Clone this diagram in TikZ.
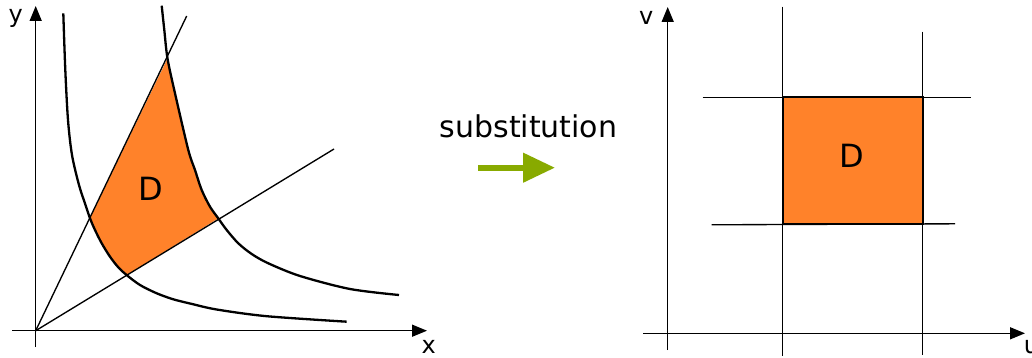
\documentclass[tikz,border=0pt]{standalone}
\usepackage{fontspec}
\setmainfont{DejaVu Sans}
\usetikzlibrary{arrows.meta}
\definecolor{regionorange}{RGB}{255,130,42}
\definecolor{arrowgreen}{RGB}{136,170,0}
\begin{document}
\begin{tikzpicture}[x=1pt,y=-1pt,
  axis/.style={line width=1.5pt,-{Triangle[length=15pt,width=12pt]}},
  thinline/.style={line width=1.35pt},
  curve/.style={line width=2.3pt},
  lbl/.style={inner sep=0pt,font=\fontsize{24}{28}\selectfont},
  dlabel/.style={inner sep=0pt,font=\fontsize{32}{38}\selectfont},
  boxline/.style={line width=2pt},
]
\useasboundingbox (0,0) rectangle (1032,358);

% ---------- left diagram ----------
\coordinate (O) at (35.7,330.7);
\coordinate (ybot) at (35.7,347);
\coordinate (ytip) at (35.7,6);
\coordinate (xleft) at (12,330.7);
\coordinate (xtip) at (427,330.7);
\coordinate (steepend) at (186.7,16);
\coordinate (shallowend) at (334,149);
\coordinate (P1) at (90,218.3);
\coordinate (P2) at (167.5,58.5);
\coordinate (P3) at (218.3,218.4);
\coordinate (P4) at (126.6,275);

% region D
\fill[regionorange] (P1) -- plot[smooth] coordinates {(P2) (175,93.3) (188.3,150) (195,170) (201.7,190) (210,206.7) (P3)}
  -- plot[smooth] coordinates {(P4) (118.3,267.3) (110,256.7) (101.7,243.3) (95,230) (P1)} -- cycle;

% axes
\draw[axis] (ybot) -- (ytip);
\draw[axis] (xleft) -- (xtip);

% rays
\draw[thinline] (O) -- (steepend);
\draw[thinline] (O) -- (shallowend);

% curves
\draw[curve] plot[smooth] coordinates {(63.3,13.3) (65.3,70) (68,120) (72,155) (79,185) (85,203.5)
  (P1) (95,230) (101.7,243.3) (110,256.7) (118.3,267.3) (P4) (140,285) (156.7,293.3)
  (173.3,299.3) (190,303.5) (216.7,309.5) (266.7,316.2) (346.7,321.7)};
\draw[curve] plot[smooth] coordinates {(161.7,5.7) (164.3,30) (P2) (175,93.3) (188.3,150) (195,170)
  (201.7,190) (210,206.7) (P3) (226.7,230) (238.3,243.3) (251.7,254) (268.3,263.3) (300,276)
  (350,289) (399,295)};

\node[lbl,anchor=base] (ylab) at (15.8,22.4) {y};
\node[lbl,anchor=base] (xlab) at (428.8,353.1) {x};
\node[dlabel] (D1) at (151.3,189.3) {D};

% ---------- middle ----------
\node[font=\fontsize{30}{36}\selectfont,inner sep=0pt,anchor=base] (subst) at (528.5,137.7) {substitution};
\coordinate (ga) at (478,167.7);
\coordinate (gb) at (555,167.7);
\draw[arrowgreen,line width=6pt,-{Triangle[length=32pt,width=28.5pt]}] (ga) -- (gb);

% ---------- right diagram ----------
\coordinate (vbot) at (667.7,350);
\coordinate (vtip) at (667.7,7);
\coordinate (uleft) at (643.3,333.3);
\coordinate (utip) at (1025,333.3);
\draw[axis] (vbot) -- (vtip);
\draw[axis] (uleft) -- (utip);

\coordinate (a1) at (782.7,6.7);
\coordinate (a2) at (782.7,356);
\coordinate (b1) at (922.7,31.7);
\coordinate (b2) at (922.7,355);
\coordinate (c1) at (702.7,97.3);
\coordinate (c2) at (971,97.3);
\coordinate (d1) at (711.7,224.8);
\coordinate (d2) at (955,223.8);
\draw[thinline] (a1) -- (a2);
\draw[thinline] (b1) -- (b2);
\draw[thinline] (c1) -- (c2);
\draw[thinline] (d1) -- (d2);
\coordinate (R1) at (782.7,97.3);
\coordinate (R2) at (922.7,224);
\filldraw[fill=regionorange,boxline] (R1) rectangle (R2);

\node[lbl,anchor=base] (vlab) at (646.3,24.8) {v};
\node[lbl,anchor=base] (ulab) at (1031.5,353) {u};
\node[dlabel] (D2) at (851.5,155.5) {D};
\end{tikzpicture}
\end{document}
